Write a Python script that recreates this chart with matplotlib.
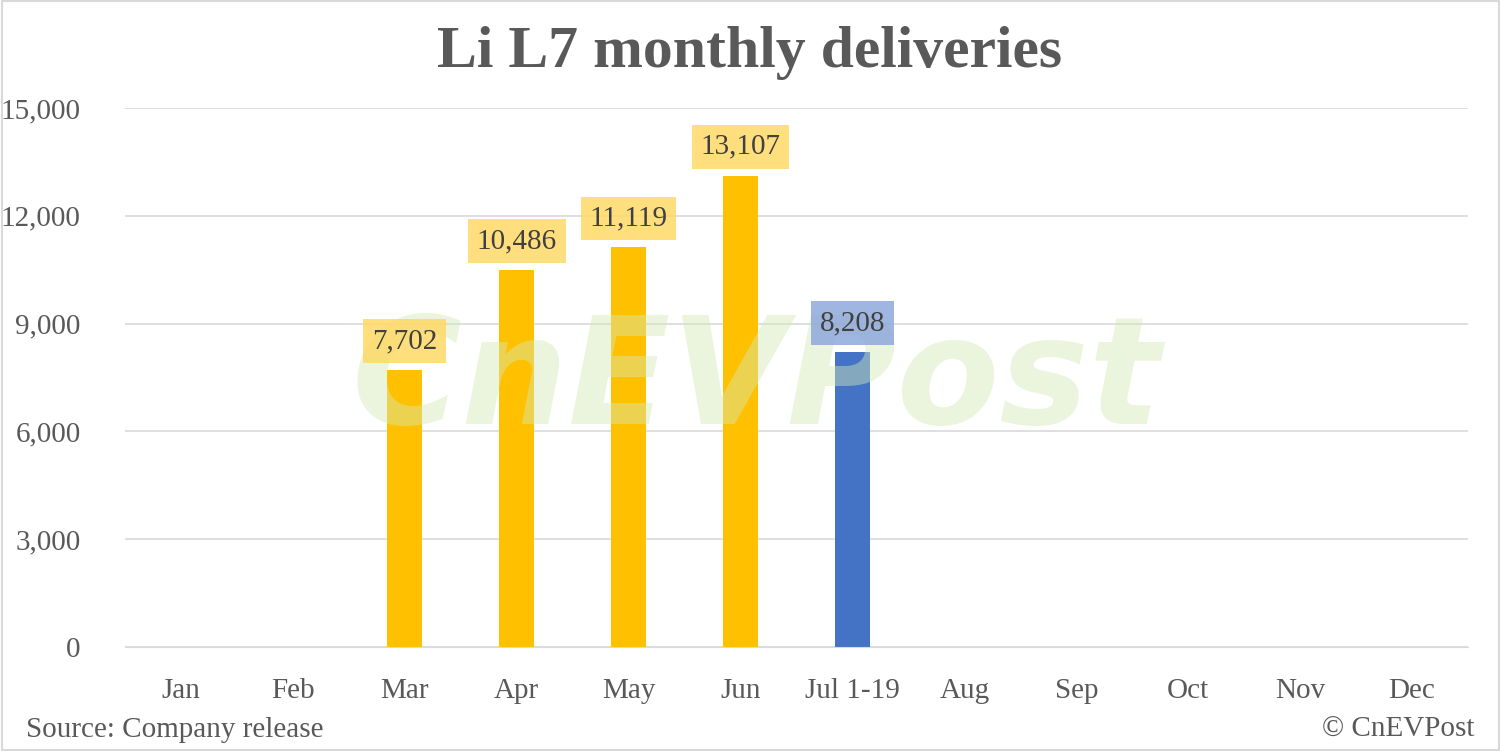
import matplotlib
matplotlib.use('Agg')
import matplotlib.pyplot as plt
from matplotlib.patches import Rectangle

months = ['Jan', 'Feb', 'Mar', 'Apr', 'May', 'Jun', 'Jul 1-19',
          'Aug', 'Sep', 'Oct', 'Nov', 'Dec']
deliveries = [None, None, 7702, 10486, 11119, 13107, 8208,
              None, None, None, None, None]
colors = ['#FFC000'] * 6 + ['#4472C4'] + ['#FFC000'] * 5
label_bg = ['#FFD966'] * 6 + ['#8EA9DB'] + ['#FFD966'] * 5
yticks = [0, 3000, 6000, 9000, 12000, 15000]

plt.rcParams['font.family'] = ['Liberation Serif', 'DejaVu Serif']

fig = plt.figure(figsize=(15, 7.51), dpi=100)
ax = fig.add_axes([125 / 1500, 1 - 647 / 751, 1343 / 1500, 539 / 751])

x = list(range(len(months)))
for i, v in enumerate(deliveries):
    if v is None:
        continue
    ax.bar(i, v, width=0.31, color=colors[i], zorder=2)
    ax.text(i, v + 450, f'{v:,}', ha='center', va='bottom', fontsize=21,
            color='#404040', zorder=4,
            bbox=dict(boxstyle='square,pad=0.3', fc=label_bg[i], ec='none', alpha=0.85))

# watermark
ax.text(0.47, 0.49, 'CnEVPost', transform=ax.transAxes, ha='center', va='center',
        fontsize=108, family='DejaVu Sans', fontweight='bold', style='italic',
        color='#D3EAB5', alpha=0.45, zorder=3)

ax.set_xlim(-0.5, len(months) - 0.5)
ax.set_ylim(0, 15000)
ax.set_yticks(yticks)
ax.set_yticklabels([f'{t:,}' for t in yticks], fontsize=21, color='#595959')
ax.set_xticks(x)
ax.set_xticklabels(months, fontsize=21, color='#595959')
ax.tick_params(length=0, pad=22)
ax.tick_params(axis='y', pad=32)
ax.grid(axis='y', color='#D9D9D9', linewidth=1.2, zorder=0)
for s in ['top', 'right', 'left']:
    ax.spines[s].set_visible(False)
ax.spines['bottom'].set_color('#D9D9D9')

fig.text(0.5, 0.93, 'Li L7 monthly deliveries', ha='center', va='center',
         fontsize=43, fontweight='bold', color='#595959')
fig.text(0.017, 0.028, 'Source: Company release', ha='left', va='center',
         fontsize=21, color='#595959')
fig.text(0.983, 0.028, '© CnEVPost', ha='right', va='center',
         fontsize=21, color='#595959')

fig.add_artist(Rectangle((0.001, 0.001), 0.998, 0.998, transform=fig.transFigure,
                         fill=False, ec='#D9D9D9', lw=1.5))

fig.savefig('out.png', dpi=100)
